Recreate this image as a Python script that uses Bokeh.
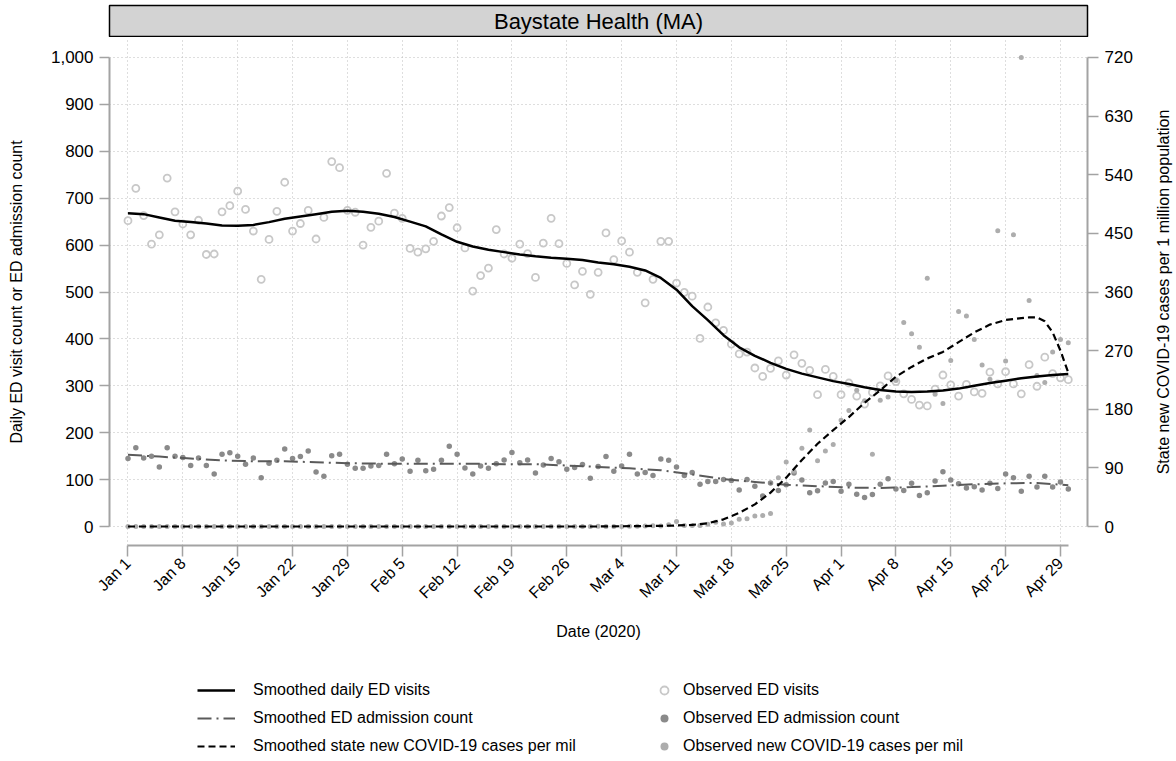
import math
from bokeh.plotting import figure
from bokeh.models import (Range1d, LinearAxis, FixedTicker, NumeralTickFormatter,
                          Legend, LegendItem, Label)
from bokeh.layouts import column, row
from bokeh.embed import file_html
from bokeh.resources import INLINE

FONT = "Liberation Sans"

# ---------------- data (day index: 0 = Jan 1, 2020) ----------------
days = list(range(121))

ed_visits = [652, 721, 663, 602, 622, 743, 671, 645, 622, 653,
             580, 581, 671, 684, 715, 676, 630, 527, 612, 672,
             734, 630, 646, 674, 613, 659, 778, 765, 674, 670,
             600, 638, 651, 753, 668, 657, 593, 585, 592, 608,
             662, 680, 637, 594, 502, 535, 551, 633, 581, 572,
             602, 582, 531, 604, 657, 603, 561, 515, 544, 495,
             542, 626, 569, 609, 585, 542, 477, 527, 608, 608,
             519, 499, 491, 401, 468, 434, 418, 389, 368, 372,
             338, 320, 337, 353, 323, 366, 348, 333, 281, 335,
             320, 281, 306, 278, 261, 286, 300, 321, 309, 283,
             271, 259, 257, 293, 323, 302, 278, 303, 287, 284,
             329, 304, 330, 304, 283, 345, 299, 361, 326, 317,
             313]

ed_admissions = [145, 168, 146, 150, 127, 168, 150, 147, 130, 146,
                 130, 112, 154, 157, 150, 133, 146, 104, 135, 141,
                 165, 145, 149, 161, 116, 107, 151, 154, 133, 124,
                 124, 129, 130, 154, 134, 144, 118, 141, 119, 122,
                 141, 171, 154, 125, 112, 129, 124, 134, 142, 158,
                 136, 142, 114, 131, 145, 138, 122, 126, 132, 103,
                 128, 149, 118, 129, 154, 112, 115, 109, 144, 141,
                 127, 109, 115, 90, 96, 96, 100, 98, 78, 100,
                 86, 65, 93, 77, 89, 114, 99, 72, 76, 93,
                 96, 75, 90, 69, 62, 68, 90, 102, 80, 77,
                 92, 66, 72, 97, 117, 99, 91, 82, 85, 78,
                 92, 81, 112, 104, 75, 107, 84, 107, 84, 95,
                 80]

covid_cases = [0] * 31 + [0.15] + [0] * 28 + [
    0.2, 0.1, 0.1, 0.1, 0.3, 0.3, 0.6, 1.0, 0.9, 2.6,
    7.7, 1.5, 1.5, 1.6, 3.3, 6.5, 4.0, 5.5, 11, 12,
    16, 17, 20, 75, 99, 85, 120, 148, 101, 116,
    126, 163, 178, 209, 193, 111, 194, 199, 224, 313,
    296, 275, 381, 203, 189, 255, 330, 323, 287, 248,
    226, 454, 254, 448, 720, 347, 232, 221, 268, 287,
    282]

smooth_ed_days = list(range(0, 121, 2))
smooth_ed = [668, 666, 659, 652, 649, 646, 642, 641, 643, 649,
             656, 661, 666, 671, 673, 671, 667, 660, 650, 640,
             623, 607, 597, 590, 585, 580, 576, 573, 571, 568,
             563, 559, 554, 546, 530, 505, 470, 440, 408, 382,
             364, 349, 336, 326, 318, 310, 304, 297, 291, 288,
             287, 288, 290, 294, 300, 306, 311, 316, 320, 323,
             325]

smooth_adm_days = list(range(0, 121, 4))
smooth_adm = [153, 149, 145, 141, 139, 139, 137, 135, 134, 134,
              134, 134, 133, 133, 130, 127, 124, 120, 111, 101,
              95, 89, 86, 83, 82, 84, 87, 90, 92, 93,
              88]

smooth_covid_days = [0, 60] + list(range(62, 113, 2)) + [114, 115, 116, 117, 118, 119, 120]
smooth_covid = [0, 0, 0.3, 0.5, 0.7, 1.0, 1.5, 2.5, 5, 11,
                21, 34, 52, 75, 102, 127, 148, 168, 190, 209,
                230, 245, 258, 268, 283, 298, 310, 317,
                320, 321, 321, 315, 298, 270, 236]

tick_days = list(range(0, 120, 7))
tick_labels = ["Jan 1", "Jan 8", "Jan 15", "Jan 22", "Jan 29", "Feb 5", "Feb 12",
               "Feb 19", "Feb 26", "Mar 4", "Mar 11", "Mar 18", "Mar 25", "Apr 1",
               "Apr 8", "Apr 15", "Apr 22", "Apr 29"]
left_ticks = list(range(0, 1001, 100))
right_ticks = list(range(0, 721, 90))

RIGHT_TITLE = "State new COVID-19 cases per 1 million population"

# ---------------- layout constants ----------------
W_MAIN = 1146          # width of the main column
W_SIDE = 30            # strip for the right-axis title
FL, FR = 109, W_MAIN - 1087
Y0, Y1 = -40.5, 1040.5
RATIO = 0.72
AXIS_GRAY = "#a3a3a3"

# ---------------- title bar ----------------
tf = figure(width=W_MAIN, height=37, x_range=Range1d(0, 1), y_range=Range1d(0, 1),
            x_axis_type=None, y_axis_type=None, toolbar_location=None,
            output_backend="svg", min_border_left=FL, min_border_right=FR,
            min_border_top=5, min_border_bottom=1)
tf.background_fill_color = "#d3d3d3"
tf.border_fill_color = "white"
tf.outline_line_color = "black"
tf.outline_line_width = 1.5
tf.add_layout(Label(x=0.5, y=0.5, text="Baystate Health (MA)", text_align="center",
                    text_baseline="middle", text_font=FONT, text_font_size="22px",
                    text_color="black"))

# ---------------- main plot ----------------
p = figure(width=W_MAIN, height=618, x_range=Range1d(-2.36, 122.45), y_range=Range1d(Y0, Y1),
           toolbar_location=None, output_backend="svg",
           min_border_left=FL, min_border_right=FR, min_border_top=1, min_border_bottom=110)
p.extra_y_ranges = {"covid": Range1d(Y0 * RATIO, Y1 * RATIO)}
p.outline_line_color = None
p.background_fill_color = "white"
p.border_fill_color = "white"

# x axis
xa = p.xaxis[0]
xa.ticker = FixedTicker(ticks=tick_days)
xa.major_label_overrides = {d: l for d, l in zip(tick_days, tick_labels)}
xa.major_label_orientation = math.pi / 4
xa.bounds = (0, 120)
xa.axis_label = "Date (2020)"

# left axis
ya = p.yaxis[0]
ya.ticker = FixedTicker(ticks=left_ticks)
ya.formatter = NumeralTickFormatter(format="0,0")
ya.bounds = (0, 1000)
ya.axis_label = "Daily ED visit count or ED admission count"

# right axis (its title is drawn in the side strip so it reads bottom-to-top)
ra = LinearAxis(y_range_name="covid", ticker=FixedTicker(ticks=right_ticks),
                bounds=(0, 720))
p.add_layout(ra, "right")

for ax in [xa, ya, ra]:
    ax.axis_line_color = AXIS_GRAY
    ax.axis_line_width = 2
    ax.major_tick_line_color = AXIS_GRAY
    ax.major_tick_line_width = 1.5
    ax.major_tick_in = 0
    ax.major_tick_out = 10
    ax.minor_tick_line_color = None
    ax.major_label_standoff = 6
    ax.major_label_text_font = FONT
    ax.major_label_text_color = "black"
    ax.axis_label_text_font = FONT
    ax.axis_label_text_font_style = "normal"
    ax.axis_label_text_font_size = "16px"
    ax.axis_label_text_color = "black"
xa.major_label_text_font_size = "16px"
ya.major_label_text_font_size = "17px"
ra.major_label_text_font_size = "17px"
xa.major_tick_out = 11
ra.major_tick_out = 11
xa.major_label_standoff = 4
xa.axis_label_standoff = 12
ya.axis_label_standoff = 23

# grid
p.xgrid.ticker = FixedTicker(ticks=tick_days)
p.ygrid.ticker = FixedTicker(ticks=left_ticks)
for g in [p.xgrid[0], p.ygrid[0]]:
    g.grid_line_color = "#bdbdbd"
    g.grid_line_dash = "1 3"
    g.grid_line_width = 1

# styles
VIS = dict(marker="circle", size=7, fill_color=None, line_color="#c8c8c8", line_width=1.8)
ADM = dict(marker="circle", size=5.5, fill_color="#8a8a8a", line_color=None)
COV = dict(marker="circle", size=5, fill_color="#adadad", line_color=None)
L_ED = dict(line_color="black", line_width=2.5)
L_ADM = dict(line_color="#5a5a5a", line_width=2, line_dash="14 5 2 5")
L_COV = dict(line_color="black", line_width=2.2, line_dash="7 4")

# observed points
p.scatter(days, ed_visits, **VIS)
p.scatter(days, ed_admissions, **ADM)
p.scatter(days, covid_cases, y_range_name="covid", **COV)

# smoothed lines
p.line(smooth_adm_days, smooth_adm, **L_ADM)
p.line(smooth_covid_days, smooth_covid, y_range_name="covid", **L_COV)
p.line(smooth_ed_days, smooth_ed, **L_ED)

# ---------------- legend strip ----------------
# Same series are drawn here with a y range that keeps them out of view;
# they only provide the legend glyphs.
lf = figure(width=W_MAIN, height=106, x_range=Range1d(0, 1), y_range=Range1d(-5000, -4000),
            x_axis_type=None, y_axis_type=None, toolbar_location=None,
            output_backend="svg", min_border=0, min_border_left=FL, min_border_right=FR)
lf.outline_line_color = None
lf.grid.visible = False
g_ed = lf.line(smooth_ed_days, smooth_ed, **L_ED)
g_adm = lf.line(smooth_adm_days, smooth_adm, **L_ADM)
g_cov = lf.line(smooth_covid_days, smooth_covid, **L_COV)
g_vis = lf.scatter(days, ed_visits, **VIS)
g_admp = lf.scatter(days, ed_admissions, **ADM)
g_covp = lf.scatter(days, covid_cases, **COV)

def style_legend(lg):
    lg.label_text_font = FONT
    lg.label_text_font_size = "16px"
    lg.label_text_color = "black"
    lg.label_height = 20
    lg.glyph_height = 20
    lg.spacing = 8
    lg.padding = 0
    lg.margin = 0
    lg.border_line_color = None
    lg.background_fill_alpha = 0

leg1 = Legend(items=[LegendItem(label="Smoothed daily ED visits", renderers=[g_ed]),
                     LegendItem(label="Smoothed ED admission count", renderers=[g_adm]),
                     LegendItem(label="Smoothed state new COVID-19 cases per mil", renderers=[g_cov])],
              location=(197 - FL, 5), glyph_width=38, label_standoff=18)
leg2 = Legend(items=[LegendItem(label="Observed ED visits", renderers=[g_vis]),
                     LegendItem(label="Observed ED admission count", renderers=[g_admp]),
                     LegendItem(label="Observed new COVID-19 cases per mil", renderers=[g_covp])],
              location=(654 - FL, 5), glyph_width=20, label_standoff=9)
style_legend(leg1)
style_legend(leg2)
lf.add_layout(leg1, "center")
lf.add_layout(leg2, "center")

# ---------------- side strip with the right-axis title ----------------
TOTAL_H = 37 + 618 + 106
sf = figure(width=W_SIDE, height=TOTAL_H, x_range=Range1d(0, 1), y_range=Range1d(0, 1),
            x_axis_type=None, y_axis_type=None, toolbar_location=None,
            output_backend="svg", min_border_left=0, min_border_right=0,
            min_border_top=38, min_border_bottom=TOTAL_H - 545)
sf.outline_line_color = None
sf.grid.visible = False
sf.add_layout(Label(x=0.55, y=0.5, text=RIGHT_TITLE, angle=math.pi / 2,
                    text_align="center", text_baseline="middle", text_font=FONT,
                    text_font_size="16px", text_color="black"))

layout = row(column(tf, p, lf, spacing=0), sf, spacing=0)
open("out.html", "w").write(file_html(layout, INLINE))
